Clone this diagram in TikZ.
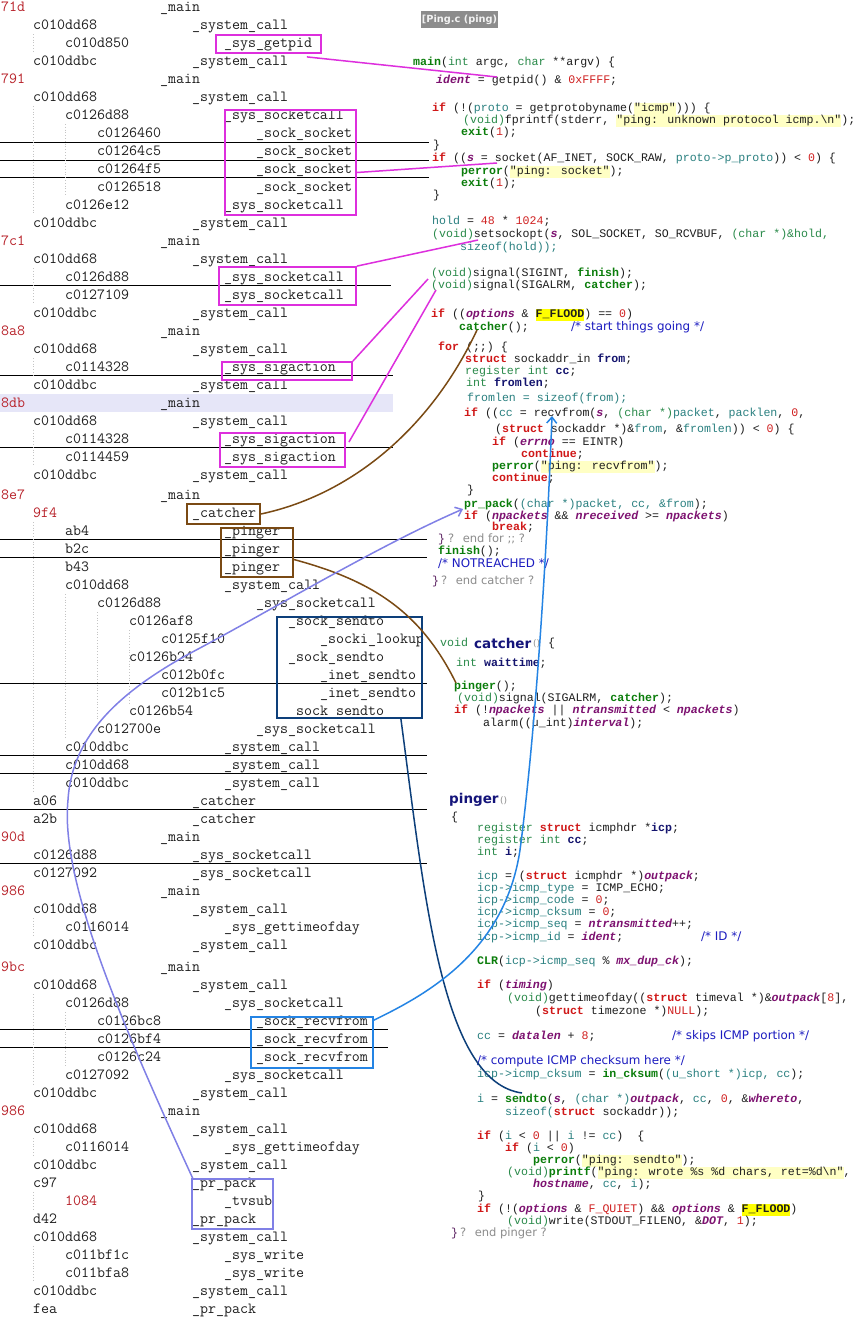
\documentclass[tikz,border=0pt]{standalone}
\usepackage{fontspec}
\usetikzlibrary{calc,arrows.meta}
\newfontfamily\zcodef{Liberation Mono}
\newfontfamily\zsansf{DejaVu Sans}
\setlength{\fboxsep}{0pt}
\definecolor{ctr}{HTML}{1E1E1E}
\definecolor{clab}{HTML}{B8222A}
\definecolor{ccode}{HTML}{1E1E1E}
\definecolor{ckw}{HTML}{D01818}
\definecolor{cty}{HTML}{2A8A4A}
\definecolor{cfn}{HTML}{0B7D0B}
\definecolor{ctl}{HTML}{2A8080}
\definecolor{cgl}{HTML}{7D1170}
\definecolor{clo}{HTML}{14146E}
\definecolor{cnu}{HTML}{D02020}
\definecolor{cstr}{HTML}{FFFFC4}
\definecolor{chl}{HTML}{FFFF00}
\definecolor{ccm}{HTML}{1C1CC0}
\definecolor{cgy}{HTML}{8C8C8C}
\definecolor{cbrace}{HTML}{5A2060}
\definecolor{chead}{HTML}{14147A}
\definecolor{cmag}{HTML}{DD2FDD}
\definecolor{cbrn}{HTML}{7A4A14}
\definecolor{cnavy}{HTML}{0D3F7A}
\definecolor{clbl}{HTML}{2484E4}
\definecolor{cperi}{HTML}{8080E6}
\definecolor{csel}{HTML}{E6E6F8}
\definecolor{cguide}{HTML}{C4C4C4}
\definecolor{ctag}{HTML}{8C8C8C}
\definecolor{ctagt}{HTML}{F2F2F2}
\newcommand\zkw[1]{\textcolor{ckw}{\bfseries #1}}
\newcommand\zty[1]{\textcolor{cty}{#1}}
\newcommand\zfn[1]{\textcolor{cfn}{\bfseries #1}}
\newcommand\ztl[1]{\textcolor{ctl}{#1}}
\newcommand\zgl[1]{\textcolor{cgl}{\bfseries\itshape #1}}
\newcommand\zlo[1]{\textcolor{clo}{\bfseries #1}}
\newcommand\znu[1]{\textcolor{cnu}{#1}}
\newcommand\zst[1]{\colorbox{cstr}{\strut #1}}
\newcommand\zhl[1]{\colorbox{chl}{\strut\bfseries #1}}
\newcommand\zred[1]{\textcolor{clab}{#1}}
\newcommand\zrow[6]{\node[trtext] (a#1) at ({1+32*#3},#2) {#4};\node[trtext] (f#1) at ({160+32*#5},#2) {#6};}
\begin{document}
\begin{tikzpicture}[x=1pt,y=-1pt,
  trtext/.style={anchor=base west, inner sep=0pt, text=ctr, font=\ttfamily\fontsize{15.5}{16}\selectfont},
  codetext/.style={anchor=base west, inner sep=0pt, text=ccode, font=\zcodef\fontsize{11.6}{12}\selectfont},
  cmttext/.style={anchor=base west, inner sep=0pt, text=ccm, font=\zsansf\fontsize{11.9}{12}\selectfont},
  graytext/.style={anchor=base west, inner sep=0pt, text=cgy, font=\zsansf\fontsize{11.5}{12}\selectfont},
  headtext/.style={anchor=base west, inner sep=0pt, text=chead, font=\zsansf\bfseries\fontsize{13.5}{14}\selectfont},
  smalltext/.style={anchor=base west, inner sep=0pt, text=cgy, font=\zsansf\fontsize{9}{10}\selectfont},
  boxed/.style={draw, line width=1.8pt, inner sep=0pt},
  linkline/.style={line width=1.5pt},
  sepline/.style={draw=black, line width=0.9pt},
  guideline/.style={draw=cguide, dotted, line width=0.8pt},
  arrowtip/.style={-{Straight Barb[length=6pt,width=10pt]}}]
\useasboundingbox (0,0) rectangle (859,1323);
\fill[white] (0,0) rectangle (859,1323);
% selected row
\fill[csel] (0,394) rectangle (393,412);
% separators
\foreach \yy in {142,160,177} {\draw[sepline] (0,\yy) -- (429,\yy);}
\draw[sepline] (0,285) -- (391,285);
\foreach \yy in {375,447} {\draw[sepline] (0,\yy) -- (393,\yy);}
\foreach \yy in {539,557,683,755,773,809,863} {\draw[sepline] (0,\yy) -- (427,\yy);}
\foreach \yy in {1029,1047} {\draw[sepline] (0,\yy) -- (388,\yy);}
% guides
\draw[guideline] (33.5,34) -- (33.5,52);
\draw[guideline] (33.5,106) -- (33.5,214);
\draw[guideline] (65.5,124) -- (65.5,196);
\draw[guideline] (33.5,268) -- (33.5,304);
\draw[guideline] (33.5,358) -- (33.5,376);
\draw[guideline] (33.5,430) -- (33.5,466);
\draw[guideline] (33.5,522) -- (33.5,792);
\draw[guideline] (65.5,594) -- (65.5,738);
\draw[guideline] (97.5,612) -- (97.5,720);
\draw[guideline] (129.5,630) -- (129.5,704);
\draw[guideline] (33.5,918) -- (33.5,936);
\draw[guideline] (33.5,994) -- (33.5,1084);
\draw[guideline] (65.5,1012) -- (65.5,1066);
\draw[guideline] (33.5,1138) -- (33.5,1156);
\draw[guideline] (33.5,1192) -- (33.5,1210);
\draw[guideline] (33.5,1246) -- (33.5,1282);
% trace
\zrow{1}{11}{0}{\zred{71d}}{0}{\_main}
\zrow{2}{29}{1}{c010dd68}{1}{\_system\_call}
\zrow{3}{47}{2}{c010d850}{2}{\_sys\_getpid}
\zrow{4}{65}{1}{c010ddbc}{1}{\_system\_call}
\zrow{5}{83}{0}{\zred{791}}{0}{\_main}
\zrow{6}{101}{1}{c010dd68}{1}{\_system\_call}
\zrow{7}{119}{2}{c0126d88}{2}{\_sys\_socketcall}
\zrow{8}{137}{3}{c0126460}{3}{\_sock\_socket}
\zrow{9}{155}{3}{c01264c5}{3}{\_sock\_socket}
\zrow{10}{173}{3}{c01264f5}{3}{\_sock\_socket}
\zrow{11}{191}{3}{c0126518}{3}{\_sock\_socket}
\zrow{12}{209}{2}{c0126e12}{2}{\_sys\_socketcall}
\zrow{13}{227}{1}{c010ddbc}{1}{\_system\_call}
\zrow{14}{245}{0}{\zred{7c1}}{0}{\_main}
\zrow{15}{263}{1}{c010dd68}{1}{\_system\_call}
\zrow{16}{281}{2}{c0126d88}{2}{\_sys\_socketcall}
\zrow{17}{299}{2}{c0127109}{2}{\_sys\_socketcall}
\zrow{18}{317}{1}{c010ddbc}{1}{\_system\_call}
\zrow{19}{335}{0}{\zred{8a8}}{0}{\_main}
\zrow{20}{353}{1}{c010dd68}{1}{\_system\_call}
\zrow{21}{371}{2}{c0114328}{2}{\_sys\_sigaction}
\zrow{22}{389}{1}{c010ddbc}{1}{\_system\_call}
\zrow{23}{407}{0}{\zred{8db}}{0}{\_main}
\zrow{24}{425}{1}{c010dd68}{1}{\_system\_call}
\zrow{25}{443}{2}{c0114328}{2}{\_sys\_sigaction}
\zrow{26}{461}{2}{c0114459}{2}{\_sys\_sigaction}
\zrow{27}{479}{1}{c010ddbc}{1}{\_system\_call}
\zrow{28}{499}{0}{\zred{8e7}}{0}{\_main}
\zrow{29}{517}{1}{\zred{9f4}}{1}{\_catcher}
\zrow{30}{535}{2}{ab4}{2}{\_pinger}
\zrow{31}{553}{2}{b2c}{2}{\_pinger}
\zrow{32}{571}{2}{b43}{2}{\_pinger}
\zrow{33}{589}{2}{c010dd68}{2}{\_system\_call}
\zrow{34}{607}{3}{c0126d88}{3}{\_sys\_socketcall}
\zrow{35}{625}{4}{c0126af8}{4}{\_sock\_sendto}
\zrow{36}{643}{5}{c0125f10}{5}{\_socki\_lookup}
\zrow{37}{661}{4}{c0126b24}{4}{\_sock\_sendto}
\zrow{38}{679}{5}{c012b0fc}{5}{\_inet\_sendto}
\zrow{39}{697}{5}{c012b1c5}{5}{\_inet\_sendto}
\zrow{40}{715}{4}{c0126b54}{4}{\_sock\_sendto}
\zrow{41}{733}{3}{c012700e}{3}{\_sys\_socketcall}
\zrow{42}{751}{2}{c010ddbc}{2}{\_system\_call}
\zrow{43}{769}{2}{c010dd68}{2}{\_system\_call}
\zrow{44}{787}{2}{c010ddbc}{2}{\_system\_call}
\zrow{45}{805}{1}{a06}{1}{\_catcher}
\zrow{46}{823}{1}{a2b}{1}{\_catcher}
\zrow{47}{841}{0}{\zred{90d}}{0}{\_main}
\zrow{48}{859}{1}{c0126d88}{1}{\_sys\_socketcall}
\zrow{49}{877}{1}{c0127092}{1}{\_sys\_socketcall}
\zrow{50}{895}{0}{\zred{986}}{0}{\_main}
\zrow{51}{913}{1}{c010dd68}{1}{\_system\_call}
\zrow{52}{931}{2}{c0116014}{2}{\_sys\_gettimeofday}
\zrow{53}{949}{1}{c010ddbc}{1}{\_system\_call}
\zrow{54}{971}{0}{\zred{9bc}}{0}{\_main}
\zrow{55}{989}{1}{c010dd68}{1}{\_system\_call}
\zrow{56}{1007}{2}{c0126d88}{2}{\_sys\_socketcall}
\zrow{57}{1025}{3}{c0126bc8}{3}{\_sock\_recvfrom}
\zrow{58}{1043}{3}{c0126bf4}{3}{\_sock\_recvfrom}
\zrow{59}{1061}{3}{c0126c24}{3}{\_sock\_recvfrom}
\zrow{60}{1079}{2}{c0127092}{2}{\_sys\_socketcall}
\zrow{61}{1097}{1}{c010ddbc}{1}{\_system\_call}
\zrow{62}{1115}{0}{\zred{986}}{0}{\_main}
\zrow{63}{1133}{1}{c010dd68}{1}{\_system\_call}
\zrow{64}{1151}{2}{c0116014}{2}{\_sys\_gettimeofday}
\zrow{65}{1169}{1}{c010ddbc}{1}{\_system\_call}
\zrow{66}{1187}{1}{c97}{1}{\_pr\_pack}
\zrow{67}{1205}{2}{\zred{1084}}{2}{\_tvsub}
\zrow{68}{1223}{1}{d42}{1}{\_pr\_pack}
\zrow{69}{1241}{1}{c010dd68}{1}{\_system\_call}
\zrow{70}{1259}{2}{c011bf1c}{2}{\_sys\_write}
\zrow{71}{1277}{2}{c011bfa8}{2}{\_sys\_write}
\zrow{72}{1295}{1}{c010ddbc}{1}{\_system\_call}
\zrow{73}{1313}{1}{fea}{1}{\_pr\_pack}
% tag
\node[fill=ctag, text=ctagt, inner sep=0pt, minimum width=77pt, minimum height=17pt, font=\zsansf\bfseries\fontsize{9.8}{10}\selectfont] (tag) at (459.5,19.5) {[Ping.c (ping)};
% code: main
\node[codetext] (c1) at (413,65) {\zfn{main}(\zty{int} argc, \zty{char} **argv) \{};
\node[codetext] (c2) at (436,83) {\zgl{ident} = getpid() \& \znu{0xFFFF};};
\node[codetext] (c3) at (432,111) {\zkw{if} (!(\ztl{proto} = getprotobyname(\zst{"icmp"}))) \{};
\node[codetext] (c4) at (463,123) {\zty{(void)}fprintf(stderr, \zst{"ping: unknown protocol icmp.\textbackslash n"});};
\node[codetext] (c5) at (461,135) {\zfn{exit}(\znu{1});};
\node[codetext] (c6) at (433,148) {\}};
\node[codetext] (c7) at (432,161) {\zkw{if} ((\zgl{s} = socket(AF\_INET, SOCK\_RAW, \ztl{proto->p\_proto})) < \znu{0}) \{};
\node[codetext] (c8) at (461,174) {\zfn{perror}(\zst{"ping: socket"});};
\node[codetext] (c9) at (461,186) {\zfn{exit}(\znu{1});};
\node[codetext] (c10) at (433,198) {\}};
\node[codetext] (c11) at (432,224) {\ztl{hold} = \znu{48} * \znu{1024};};
\node[codetext] (c12) at (432,237) {\zty{(void)}setsockopt(\zgl{s}, SOL\_SOCKET, SO\_RCVBUF, \zty{(char *)\&hold,}};
\node[codetext] (c13) at (460,250) {\ztl{sizeof(hold));}};
\node[codetext] (c14) at (431,276) {\zty{(void)}signal(SIGINT, \zfn{finish});};
\node[codetext] (c15) at (431,288) {\zty{(void)}signal(SIGALRM, \zfn{catcher});};
\node[codetext] (c16) at (431,317) {\zkw{if} ((\zgl{options} \& \zhl{F\_FLOOD}) == \znu{0})};
\node[codetext] (c17) at (459,330) {\zfn{catcher}();};
\node[cmttext] (m1) at (571,330) {/* start things going */};
\node[codetext] (c18) at (438,350) {\zkw{for} (;;) \{};
\node[codetext] (c19) at (465,362) {\zkw{struct} sockaddr\_in \zlo{from};};
\node[codetext] (c20) at (465,374) {\zty{register int} \zlo{cc};};
\node[codetext] (c21) at (466,386) {\zty{int} \zlo{fromlen};};
\node[codetext] (c22) at (467,401) {\ztl{fromlen = sizeof(from);}};
\node[codetext] (c23) at (464,416) {\zkw{if} ((\ztl{cc} = recvfrom(\zgl{s}, \zty{(char *)}\ztl{packet}, \ztl{packlen}, \znu{0},};
\node[codetext] (c24) at (495,432) {(\zkw{struct} sockaddr *)\&\ztl{from}, \&\ztl{fromlen})) < \znu{0}) \{};
\node[codetext] (c25) at (492,445) {\zkw{if} (\zgl{errno} == EINTR)};
\node[codetext] (c26) at (521,457) {\zkw{continue};};
\node[codetext] (c27) at (492,469) {\zfn{perror}(\zst{"ping: recvfrom"});};
\node[codetext] (c28) at (492,481) {\zkw{continue};};
\node[codetext] (c29) at (467,493) {\}};
\node[codetext] (c30) at (464,507) {\zfn{pr\_pack}(\ztl{(char *)packet, cc, \&from});};
\node[codetext] (c31) at (464,519) {\zkw{if} (\zgl{npackets} \&\& \zgl{nreceived} >= \zgl{npackets})};
\node[codetext] (c32) at (492,530) {\zkw{break};};
\node[codetext,text=cbrace] (c33) at (438,542) {\}};
\node[graytext] (g1) at (448,542) {?\hspace{8.5pt}end for ;; ?};
\node[codetext] (c34) at (438,554) {\zfn{finish}();};
\node[cmttext] (m2) at (438,567) {/* NOTREACHED */};
\node[codetext,text=cbrace] (c35) at (432,584) {\}};
\node[graytext] (g2) at (441,584) {?\hspace{8.5pt}end catcher ?};
% code: catcher
\node[codetext] (c36) at (440,646) {\zty{void}};
\node[headtext] (h1) at (474,648) {catcher};
\node[smalltext] (p1) at (533,646) {()};
\node[codetext] (c37) at (548,646) {\{};
\node[codetext] (c38) at (456,666) {\zty{int} \zlo{waittime};};
\node[codetext] (c39) at (454,689) {\zfn{pinger}();};
\node[codetext] (c40) at (457,701) {\zty{(void)}signal(SIGALRM, \zfn{catcher});};
\node[codetext] (c41) at (454,713) {\zkw{if} (!\zgl{npackets} || \zgl{ntransmitted} < \zgl{npackets})};
\node[codetext] (c42) at (483,726) {alarm((u\_int)\zgl{interval});};
% code: pinger
\node[headtext] (h2) at (449,803) {pinger};
\node[smalltext] (p2) at (500,803) {()};
\node[codetext] (c43) at (451,820) {\{};
\node[codetext] (c44) at (477,831) {\zty{register} \zkw{struct} icmphdr *\zlo{icp};};
\node[codetext] (c45) at (477,843) {\zty{register int} \zlo{cc};};
\node[codetext] (c46) at (477,855) {\zty{int} \zlo{i};};
\node[codetext] (c47) at (477,879) {\ztl{icp} = (\zkw{struct} icmphdr *)\zgl{outpack};};
\node[codetext] (c48) at (477,891) {\ztl{icp->icmp\_type} = ICMP\_ECHO;};
\node[codetext] (c49) at (477,903) {\ztl{icp->icmp\_code} = \znu{0};};
\node[codetext] (c50) at (477,915) {\ztl{icp->icmp\_cksum} = \znu{0};};
\node[codetext] (c51) at (477,927) {\ztl{icp->icmp\_seq} = \zgl{ntransmitted}++;};
\node[codetext] (c52) at (477,940) {\ztl{icp->icmp\_id} = \zgl{ident};};
\node[cmttext] (m3) at (701,940) {/* ID */};
\node[codetext] (c53) at (477,964) {\zfn{CLR}(\ztl{icp->icmp\_seq} \% \zgl{mx\_dup\_ck});};
\node[codetext] (c54) at (477,988) {\zkw{if} (\zgl{timing})};
\node[codetext] (c55) at (507,1001) {\zty{(void)}gettimeofday((\zkw{struct} timeval *)\&\zgl{outpack}[\znu{8}],};
\node[codetext] (c56) at (535,1014) {(\zkw{struct} timezone *)\znu{NULL});};
\node[codetext] (c57) at (477,1039) {\ztl{cc} = \zgl{datalen} + \znu{8};};
\node[cmttext] (m4) at (672,1039) {/* skips ICMP portion */};
\node[cmttext] (m5) at (477,1064) {/* compute ICMP checksum here */};
\node[codetext] (c58) at (477,1077) {\ztl{icp->icmp\_cksum} = \zfn{in\_cksum}(\ztl{(u\_short *)icp, cc});};
\node[codetext] (c59) at (477,1102) {\ztl{i} = \zfn{sendto}(\zgl{s}, \ztl{(char *)}\zgl{outpack}, \ztl{cc}, \znu{0}, \&\zgl{whereto},};
\node[codetext] (c60) at (505,1115) {\ztl{sizeof(}\zkw{struct} sockaddr));};
\node[codetext] (c61) at (477,1139) {\zkw{if} (\ztl{i} < \znu{0} || \ztl{i} != \ztl{cc})\ \ \{};
\node[codetext] (c62) at (505,1151) {\zkw{if} (\ztl{i} < \znu{0})};
\node[codetext] (c63) at (533,1163) {\zfn{perror}(\zst{"ping: sendto"});};
\node[codetext] (c64) at (507,1175) {\zty{(void)}\zfn{printf}(\zst{"ping: wrote \%s \%d chars, ret=\%d\textbackslash n"},};
\node[codetext] (c65) at (533,1187) {\zgl{hostname}, \ztl{cc}, \ztl{i});};
\node[codetext] (c66) at (478,1199) {\}};
\node[codetext] (c67) at (477,1212) {\zkw{if} (!(\zgl{options} \& \znu{F\_QUIET}) \&\& \zgl{options} \& \zhl{F\_FLOOD})};
\node[codetext] (c68) at (507,1224) {\zty{(void)}write(STDOUT\_FILENO, \&\zgl{DOT}, \znu{1});};
\node[codetext,text=cbrace] (c69) at (451,1236) {\}};
\node[graytext] (g3) at (460,1236) {?\hspace{8.5pt}end pinger ?};
% boxes
\node[boxed, draw=cmag, minimum width=105pt, minimum height=18pt] (bGetpid) at (268.5,44) {};
\node[boxed, draw=cmag, minimum width=131pt, minimum height=105pt] (bSock) at (290.5,162.5) {};
\node[boxed, draw=cmag, minimum width=137pt, minimum height=38pt] (bSc2) at (287.5,286) {};
\node[boxed, draw=cmag, minimum width=130pt, minimum height=18pt] (bSig1) at (287,371) {};
\node[boxed, draw=cmag, minimum width=125pt, minimum height=34pt] (bSig2) at (282.5,450) {};
\node[boxed, draw=cbrn, minimum width=73pt, minimum height=20pt] (bCatch) at (223.5,514) {};
\node[boxed, draw=cbrn, minimum width=72pt, minimum height=49pt] (bPing) at (257,552.5) {};
\node[boxed, draw=cnavy, minimum width=145pt, minimum height=101pt] (bSend) at (349.5,667.5) {};
\node[boxed, draw=clbl, minimum width=122pt, minimum height=51pt] (bRecv) at (312,1042.5) {};
\node[boxed, draw=cperi, minimum width=81pt, minimum height=50pt] (bPr) at (232.5,1204) {};
% connector ends in the code
\coordinate (kGetpid) at (497,77);
\coordinate (kSocket) at (497,163);
\coordinate (kSetsock) at (478,240);
\coordinate (kSigint) at (428,279);
\coordinate (kSigalrm) at (436,290);
\coordinate (kCatcher) at (477,330);
\coordinate (kPinger) at (456,683);
\coordinate (kSendto) at (522,1093);
\coordinate (kRecvfrom) at (552,416);
\coordinate (kPrpack) at (463,509);
% connectors
\draw[linkline, cmag] ($(bGetpid.south east)+(-15,3)$) -- (kGetpid);
\draw[linkline, cmag] ($(bSock.east)+(0,10)$) -- (kSocket);
\draw[linkline, cmag] (bSc2.north east) -- (kSetsock);
\draw[linkline, cmag] (bSig1.north east) -- (kSigint);
\draw[linkline, cmag] ($(bSig2.north east)+(3,10)$) -- (kSigalrm);
\draw[linkline, cbrn] (bCatch.east) .. controls (350,495) and (430,430) .. (kCatcher);
\draw[linkline, cbrn] ($(bPing.east)+(0,7)$) .. controls (370,580) and (420,610) .. (kPinger);
\draw[linkline, cnavy] ($(bSend.south east)+(-22,0)$) .. controls (425,900) and (442,1082) .. (kSendto);
\draw[linkline, clbl, arrowtip] ($(bRecv.north east)+(0,4)$) .. controls (430,993) and (505,950) .. (520,850) .. controls (532,760) and (545,600) .. (kRecvfrom);
\draw[linkline, cperi, arrowtip] ($(bPr.north west)+(2,1)$) .. controls (120,1020) and (60,880) .. (68,800) .. controls (72,735) and (120,690) .. (200,648) .. controls (280,605) and (380,545) .. (kPrpack);
\end{tikzpicture}
\end{document}
